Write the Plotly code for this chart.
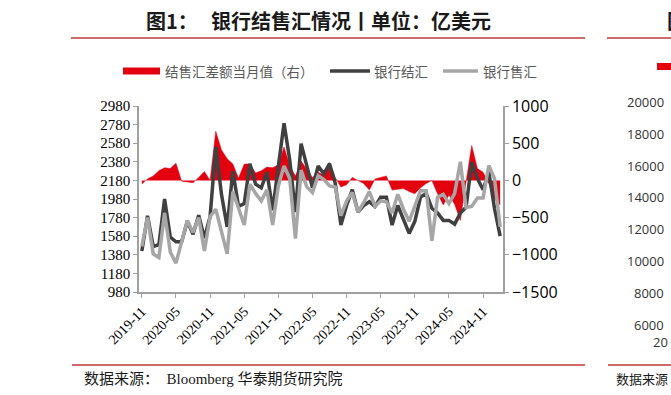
import plotly.graph_objects as go
import pandas as pd

# ---------------- data ----------------
months = [p.strftime("%Y-%m") for p in pd.period_range("2019-11", "2025-02", freq="M")]

settle = [1420, 1800, 1470, 1490, 1980, 1570, 1520, 1520, 1740, 1600,
          1805, 1560, 1790, 2540, 2030, 1680, 2280, 1900, 1930, 2360,
          2140, 2100, 2270, 1860, 2330, 2795, 2400, 1840, 2575, 2320,
          2100, 2335, 2250, 2360, 2150, 1700, 1910, 2080, 1840, 1910,
          1950, 1900, 2000, 2000, 1700, 1910, 1760, 1610, 1740, 2000,
          2040, 1880, 1830, 1750, 1750, 1710, 1830, 1890, 2376, 2200,
          2080, 2270, 1880, 1580]

sales = [1470, 1780, 1390, 1350, 1830, 1410, 1290, 1510, 1750, 1620,
         1780, 1420, 1790, 1870, 1620, 1390, 2060, 1870, 1700, 2140,
         2040, 1960, 2080, 1700, 2120, 2335, 2200, 1555, 2290, 2110,
         2050, 2230, 2190, 2120, 2110, 1800, 1960, 2050, 1840, 1940,
         2060, 1900, 1960, 1950, 1830, 2030, 1870, 1740, 1900, 2070,
         2070, 1530, 2000, 2030, 1930, 2040, 2380, 1890, 1900, 1990,
         1990, 2340, 2200, 1680]

balance = [-50, 20, 60, 130, 170, 160, 230, -10, -20, -30,
           40, 120, 0, 660, 410, 290, 220, 30, 220, 220,
           100, 130, 180, 170, 210, 450, 200, 60, 260, 150,
           40, 110, 70, 240, 40, -90, -60, 40, 0, -40,
           -130, 20, 40, 60, -130, -120, -110, -150, -180, -100,
           -40, 0, -180, -330, -200, -320, -540, -20, 470, 160,
           110, -40, -250, -330]

x_tick_labels = months[::6]
left_ticks = [980, 1180, 1380, 1580, 1780, 1980, 2180, 2380, 2580, 2780, 2980]
right_ticks = [-1500, -1000, -500, 0, 500, 1000]

# partially visible neighbouring chart (cut off at right edge)
next_chart_ticks = ["20000", "18000", "16000", "14000", "12000", "10000", "8000", "6000"]

series_names = ["结售汇差额当月值（右）", "银行结汇", "银行售汇"]
title_prefix = "图1："
title_main = "银行结售汇情况丨单位：亿美元"
source_text = "数据来源：  Bloomberg 华泰期货研究院"

# ---------------- layout helpers ----------------
W, H = 671, 395
L, R, T, B = 139, 168, 106, 103
PW = W - L - R
PH = H - T - B


def xp(px):
    return (px - L) / PW


def yp(py):
    return (H - B - py) / PH


RED = "#E3000F"
DARK = "#404040"
GREY = "#A6A6A6"
AXIS = "#A0A0A0"
SEP = "#CF6A6A"
CJK = "Noto Sans CJK SC"

fig = go.Figure()
fig.add_trace(go.Scatter(x=months, y=balance, mode="lines", fill="tozeroy",
                         line=dict(color=RED, width=0.5), fillcolor=RED,
                         yaxis="y", name=series_names[0], showlegend=False,
                         hoverinfo="skip"))
fig.add_trace(go.Scatter(x=months, y=settle, mode="lines",
                         line=dict(color=DARK, width=3.5), yaxis="y2",
                         name=series_names[1], showlegend=False))
fig.add_trace(go.Scatter(x=months, y=sales, mode="lines",
                         line=dict(color=GREY, width=3.5), yaxis="y2",
                         name=series_names[2], showlegend=False))

shapes = []
# separator lines
for (x0, x1) in [(71, 585), (607, 690)]:
    shapes.append(dict(type="line", xref="paper", yref="paper", x0=xp(x0), x1=xp(x1),
                       y0=yp(38), y1=yp(38), line=dict(color=SEP, width=2)))
    shapes.append(dict(type="line", xref="paper", yref="paper", x0=xp(x0 + 1), x1=xp(x1),
                       y0=yp(365), y1=yp(365), line=dict(color=SEP, width=2)))
# legend symbols
shapes.append(dict(type="rect", xref="paper", yref="paper", x0=xp(123), x1=xp(160),
                   y0=yp(74.5), y1=yp(67.5), fillcolor=RED, line=dict(width=0)))
shapes.append(dict(type="line", xref="paper", yref="paper", x0=xp(330), x1=xp(370),
                   y0=yp(71), y1=yp(71), line=dict(color=DARK, width=3.5)))
shapes.append(dict(type="line", xref="paper", yref="paper", x0=xp(443), x1=xp(478),
                   y0=yp(71), y1=yp(71), line=dict(color=GREY, width=3.5)))
shapes.append(dict(type="rect", xref="paper", yref="paper", x0=xp(657), x1=xp(690),
                   y0=yp(70), y1=yp(63), fillcolor=RED, line=dict(width=0)))

ann = []


def text(s, x, y, size=13, color="#000000", family=CJK, anchor="left"):
    ann.append(dict(text=s, xref="paper", yref="paper", x=xp(x), y=yp(y),
                    xanchor=anchor, yanchor="middle", showarrow=False,
                    font=dict(size=size, color=color, family=family)))


text("<b>" + title_prefix + "</b>", 144, 20, size=20, color="#1A1A1A")
text("<b>" + title_main + "</b>", 209, 20, size=20, color="#1A1A1A")
text(series_names[0], 163, 71, size=13.5, color="#595959")
text(series_names[1], 372, 71, size=13.5, color="#595959")
text(series_names[2], 481, 71, size=13.5, color="#595959")
text(source_text, 82, 378, size=15, color="#1A1A1A",
     family="Liberation Serif, " + CJK)
# neighbouring chart pieces (at the picture edge, as in the reference)
text("<b>图</b>", 665, 20, size=20, color="#1A1A1A")
for i, lab in enumerate(next_chart_ticks):
    text(lab, 666, 102 + i * 31.8, size=13, color="#333333",
         family="Open Sans", anchor="right")
text("20", 670, 342, size=13, color="#333333", family="Open Sans", anchor="right")
text("数据来源", 670, 378, size=13, color="#1A1A1A", anchor="right")

fig.update_layout(
    width=W, height=H,
    margin=dict(l=L, r=R, t=T, b=B, pad=0),
    paper_bgcolor="white", plot_bgcolor="white",
    showlegend=False,
    shapes=shapes, annotations=ann,
    xaxis=dict(type="category", range=[-0.5, len(months) - 0.5],
               tickmode="array", tickvals=x_tick_labels, ticktext=x_tick_labels,
               tickangle=-45, ticks="outside", ticklen=4, tickcolor=AXIS,
               showline=True, linecolor=AXIS, linewidth=1.5,
               showgrid=False, zeroline=False,
               tickfont=dict(family="Liberation Serif", size=14, color="#000000")),
    yaxis=dict(side="right", range=[-1500, 1000], tickmode="array", tickvals=right_ticks,
               ticks="outside", ticklen=4, tickcolor=AXIS,
               showline=True, linecolor=AXIS, linewidth=1.5,
               showgrid=False, zeroline=False,
               tickfont=dict(family="Open Sans", size=16, color="#000000")),
    yaxis2=dict(side="left", overlaying="y", range=[980, 2980], tickmode="array",
                tickvals=left_ticks, ticks="outside", ticklen=4, tickcolor=AXIS,
                showline=True, linecolor=AXIS, linewidth=1.5,
                showgrid=False, zeroline=False,
                tickfont=dict(family="Liberation Serif", size=15, color="#000000")),
)

fig.write_html("out.html",
               config={"displayModeBar": False},
               post_script="document.body.style.margin='0px';"
                           "document.body.style.overflow='hidden';")
